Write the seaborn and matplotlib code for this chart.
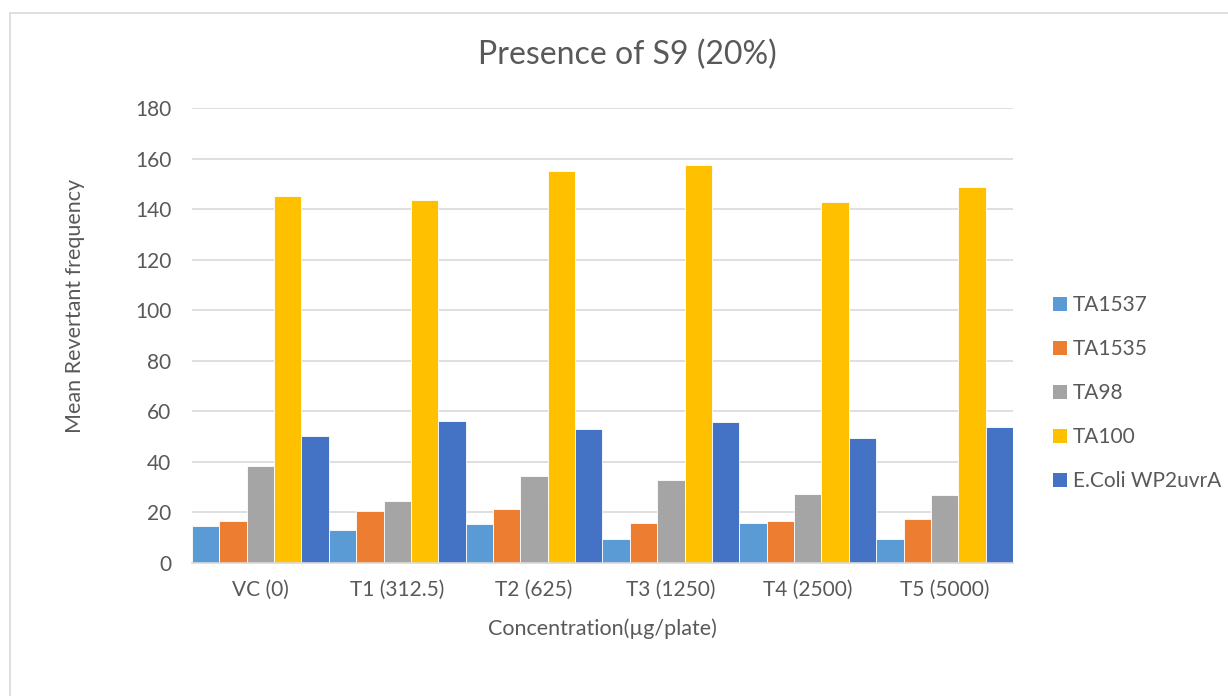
import matplotlib
matplotlib.use("Agg")
import matplotlib.pyplot as plt
from matplotlib.patches import Rectangle, Patch
import seaborn as sns
import pandas as pd

# Concentration groups and mean revertant counts per tester strain
concentrations = ["VC (0)", "T1 (312.5)", "T2 (625)", "T3 (1250)", "T4 (2500)", "T5 (5000)"]
strains = ["TA1537", "TA1535", "TA98", "TA100", "E.Coli WP2uvrA"]
ta1537 = [14.5, 13.2, 15.5, 9.4, 16.0, 9.4]
ta1535 = [16.6, 20.5, 21.2, 15.8, 16.6, 17.5]
ta98 = [38.4, 24.5, 34.4, 32.7, 27.4, 26.8]
ta100 = [145.3, 143.7, 155.1, 157.6, 142.8, 148.7]
ecoli = [50.2, 56.2, 53.1, 55.8, 49.4, 53.9]
yticks = [0, 20, 40, 60, 80, 100, 120, 140, 160, 180]

colors = ["#5B9BD5", "#ED7D31", "#A5A5A5", "#FFC000", "#4472C4"]
text_color = "#595959"
grid_color = "#D9D9D9"

series = [ta1537, ta1535, ta98, ta100, ecoli]
rows = []
for name, vals in zip(strains, series):
    for c, v in zip(concentrations, vals):
        rows.append({"Concentration": c, "Strain": name, "Value": v})
df = pd.DataFrame(rows)

sns.set_theme(style="white")
plt.rcParams["font.family"] = ["Lato", "DejaVu Sans"]

W, H = 1228, 696
fig = plt.figure(figsize=(W / 100, H / 100), dpi=100)
fig.patch.set_facecolor("white")

# chart-area frame
fig.add_artist(Rectangle((10 / W, -0.1), 1.2, 1 - 13 / H + 0.1,
                         transform=fig.transFigure, fill=False,
                         edgecolor="#D9D9D9", linewidth=1.2))

ax = fig.add_axes([192 / W, (H - 563) / H, (1013 - 192) / W, 455 / H])
sns.barplot(data=df, x="Concentration", y="Value", hue="Strain",
            order=concentrations, hue_order=strains, palette=colors,
            width=1.0, gap=0, edgecolor="white", linewidth=0.6,
            saturation=1, ax=ax, legend=False)

ax.set_ylim(0, 180)
ax.set_yticks(yticks)
ax.set_xlim(-0.5, len(concentrations) - 0.5)
ax.yaxis.grid(True, color=grid_color, linewidth=1.2)
ax.set_axisbelow(True)
for side in ["top", "right", "left"]:
    ax.spines[side].set_visible(False)
ax.spines["bottom"].set_color(grid_color)
ax.spines["bottom"].set_linewidth(1.2)
ax.tick_params(axis="both", length=0, labelsize=15, colors=text_color)
ax.tick_params(axis="y", pad=15)
ax.tick_params(axis="x", pad=12)
ax.set_xlabel("")
ax.set_ylabel("")

fig.text(627 / W, 1 - 55 / H, "Presence of S9 (20%)", ha="center", va="center",
         fontsize=23, color=text_color)
fig.text(602 / W, 1 - 629 / H, "Concentration(µg/plate)", ha="center", va="center",
         fontsize=15.5, color=text_color)
fig.text(75 / W, 1 - 306 / H, "Mean Revertant frequency", ha="center", va="center",
         rotation=90, fontsize=15.5, color=text_color)

handles = [Patch(facecolor=c, edgecolor="none") for c in colors]
leg = fig.legend(handles, strains, loc="center left",
                 bbox_to_anchor=(1053 / W, 1 - 393 / H), frameon=False,
                 fontsize=15, handlelength=0.65, handleheight=0.65,
                 handletextpad=0.3, labelspacing=1.15, borderpad=0,
                 borderaxespad=0)
for t in leg.get_texts():
    t.set_color(text_color)

fig.savefig("out.png", dpi=100, facecolor="white")
